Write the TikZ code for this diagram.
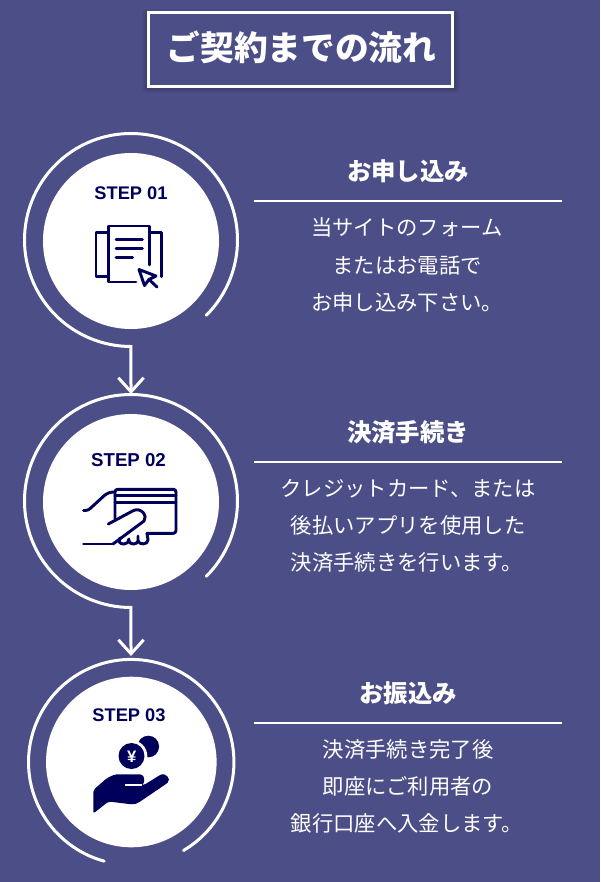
\documentclass[tikz,border=0pt]{standalone}
\usepackage{fontspec}
\setmainfont{Liberation Sans}
\newfontfamily\jpfont{Noto Sans CJK JP}
\usetikzlibrary{arrows.meta}
\definecolor{pagebg}{HTML}{4C4E87}
\definecolor{navy}{HTML}{00005A}
\tikzset{
  x=0.75pt, y=0.75pt,
  ringline/.style={draw=white, line width=2.25pt, line cap=round},
  flowarrow/.style={draw=white, line width=2.25pt, line cap=round, miter limit=10, -{Straight Barb[length=10.5pt,width=19pt,line width=2.25pt]}},
  disc/.style={circle, fill=white, inner sep=0pt, minimum size=#1*0.75pt},
  steplabel/.style={text=navy, font=\bfseries\fontsize{13.7pt}{16pt}\selectfont, anchor=base, inner sep=0pt},
  heading/.style={text=white, font=\jpfont\bfseries\fontsize{18.3pt}{20pt}\selectfont, anchor=base, inner sep=0pt},
  bodyline/.style={text=white, font=\jpfont\fontsize{16pt}{19pt}\selectfont, anchor=base, inner sep=0pt},
  rule/.style={draw=white, line width=1.05pt},
  iconline/.style={draw=navy, line width=2.2pt, line cap=round, line join=round},
}
\begin{document}
\begin{tikzpicture}
\useasboundingbox (0,-882) rectangle (600,0);
\fill[pagebg] (0,-882) rectangle (600,0);

% title panel with a soft shadow
\foreach \g/\o in {5/.025, 4/.03, 3/.035, 2/.04, 1/.05}
  \fill[black, opacity=\o, rounded corners=2pt] (146-\g+1,-87-\g-1) rectangle (455+\g,-12+\g-2);
\fill[pagebg] (147.5,-85.5) rectangle (452.5,-12.5);
\node[draw=white, line width=2.25pt, minimum width=228pt, minimum height=55.5pt, inner sep=0pt] (titlebox) at (300,-49) {};
\node[text=white, font=\jpfont\bfseries\fontsize{25.3pt}{30pt}\selectfont, anchor=base, inner sep=0pt] (titletext) at (301.5,-60.5) {ご契約までの流れ};

% discs
\node[disc=176] (disc1) at (131,-241) {};
\node[disc=176] (disc2) at (131,-502) {};
\node[disc=170.6] (disc3) at (131.3,-762) {};

% rings, each running on into the arrow that leaves it
\coordinate (ring1end) at (206.3,-315.3);
\coordinate (ring2top) at (131,-394);
\coordinate (ring2end) at (206.3,-576.3);
\coordinate (ring3top) at (131,-656);
\draw[flowarrow] (ring1end) arc[start angle=-45, end angle=270, radius=106.5] -- (ring2top);
\draw[flowarrow] (ring2end) arc[start angle=-45, end angle=270, radius=106.5] -- (ring3top);
\draw[ringline] (183.5,-850.5) arc[start angle=-59.4, end angle=254.7, radius=102.7];

% step labels
\node[steplabel] (step1) at (131,-199.5) {STEP 01};
\node[steplabel, font=\bfseries\fontsize{14pt}{16pt}\selectfont] (step2) at (128.5,-466) {STEP 02};
\node[steplabel] (step3) at (129,-721.5) {STEP 03};

% document and cursor icon
\draw[iconline] (149.3,-265) -- (149.3,-226) -- (108.3,-226) -- (108.3,-282) -- (136,-282);
\draw[iconline] (116,-239.3) -- (142.3,-239.3);
\draw[iconline] (116,-248.3) -- (142.3,-248.3);
\draw[iconline] (116,-257.3) -- (132.7,-257.3);
\draw[iconline] (108,-232.7) -- (96,-232.7) -- (96,-276.7) -- (108,-276.7);
\draw[iconline] (149.3,-232.7) -- (161.5,-232.7) -- (161.5,-276.7);
\fill[white] (136,-266) -- (158,-275) -- (145,-288) -- cycle;
\draw[iconline] (139,-269.5) -- (156,-276) -- (149,-279.5) -- (144.5,-285.5) -- cycle;
\draw[iconline] (149,-279.5) -- (157,-287);

% payment card and hand icon
\draw[iconline, rounded corners=2pt] (115,-519) -- (115,-489.3) -- (176,-489.3) -- (176,-533.3) -- (147,-533.3);
\draw[iconline] (115,-495.7) -- (176,-495.7);
\draw[iconline] (115,-502.7) -- (176,-502.7);
\draw[iconline, rounded corners=2pt] (83.5,-510.5) -- (88,-510.5) -- (106,-494) -- (111,-492) -- (115,-492);
\draw[iconline] (83.5,-544) -- (113,-544);
\draw[iconline] (108.3,-524) -- (133.5,-510.5) .. controls (141,-507) and (148,-516) .. (144,-521) -- (113,-544);
\draw[iconline] (120,-538) .. controls (118,-542) and (120,-544) .. (124,-544) .. controls (127,-544) and (129,-542) .. (129,-539);
\draw[iconline] (129,-541) .. controls (130,-545) and (137,-545) .. (138,-541) -- (138,-536);
\draw[iconline] (138,-541) .. controls (139,-545) and (148,-545) .. (148,-540) -- (147,-533.3);

% coins and open hand icon
\fill[navy] (148.3,-746.5) circle[radius=10.8];
\fill[white] (131.5,-756) circle[radius=15.8];
\fill[navy] (131.5,-756) circle[radius=13];
\node[text=white, font=\bfseries\fontsize{12.5pt}{14pt}\selectfont, inner sep=0pt] (yen) at (131.7,-757) {¥};
\fill[navy, rounded corners=1.5pt] (93.3,-790) -- (106.7,-778.3) -- (115,-774.3) -- (139,-774.3)
  .. controls (145,-775) and (145,-783) .. (141,-785) -- (144,-785) -- (160,-775)
  .. controls (165,-773) and (172,-779) .. (166,-784) -- (138,-803) -- (133,-804.5) -- (108.5,-801.5) -- (93.3,-813.5) -- cycle;
\draw[draw=white, line width=1.4pt] (125,-785.2) -- (141.5,-785.2);

% right-hand column
\node[heading] (head1) at (408,-180) {お申し込み};
\draw[rule] (254,-201) coordinate (rule1a) -- (562,-201) coordinate (rule1b);
\node[bodyline] (line1a) at (407,-235) {当サイトのフォーム};
\node[bodyline] (line1b) at (407,-273) {またはお電話で};
\node[bodyline] (line1c) at (407,-310) {お申し込み下さい。};

\node[heading] (head2) at (408,-441) {決済手続き};
\draw[rule] (254,-462) coordinate (rule2a) -- (562,-462) coordinate (rule2b);
\node[bodyline] (line2a) at (408,-496) {クレジットカード、または};
\node[bodyline] (line2b) at (408,-533) {後払いアプリを使用した};
\node[bodyline] (line2c) at (407,-570) {決済手続きを行います。};

\node[heading] (head3) at (408,-702) {お振込み};
\draw[rule] (254,-723) coordinate (rule3a) -- (562,-723) coordinate (rule3b);
\node[bodyline] (line3a) at (408,-757) {決済手続き完了後};
\node[bodyline] (line3b) at (408,-794) {即座にご利用者の};
\node[bodyline] (line3c) at (407,-831) {銀行口座へ入金します。};
\end{tikzpicture}
\end{document}
